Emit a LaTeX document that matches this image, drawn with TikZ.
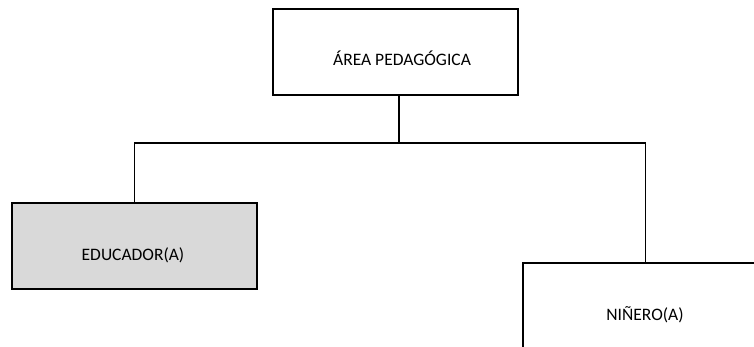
\documentclass[tikz,border=0pt]{standalone}
\usepackage{fontspec}
\setmainfont{Carlito}
\usetikzlibrary{calc}
\begin{document}
\begin{tikzpicture}[x=1pt,y=-1pt,
  box/.style={draw=black,line width=1.5pt,rectangle,minimum width=245pt,minimum height=86pt,inner sep=0pt},
  lbl/.style={inner sep=0pt,font=\fontsize{17.5}{21}\selectfont},
  conn/.style={line width=1.6pt}]
\useasboundingbox (0,0) rectangle (754,347);
\clip (0,0) rectangle (754,347);
\fill[white] (0,0) rectangle (754,347);
\node[box] (top) at (395.5,52) {};
\node[box,fill={rgb,255:red,217;green,217;blue,217}] (edu) at (134.5,246) {};
\node[box] (nin) at (645.5,306) {};
\node[lbl] (topt) at (402,58) {ÁREA PEDAGÓGICA};
\node[lbl] (edut) at (133,255) {EDUCADOR(A)};
\node[lbl] (nint) at (645,315) {NIÑERO(A)};
\coordinate (j) at (399,143);
\coordinate (jl) at (134.5,143);
\coordinate (jr) at (645.5,143);
\draw[conn] (top.south -| j) -- (j);
\draw[conn] (edu.north) -- (jl) -- (jr) -- (nin.north);
\end{tikzpicture}
\end{document}
